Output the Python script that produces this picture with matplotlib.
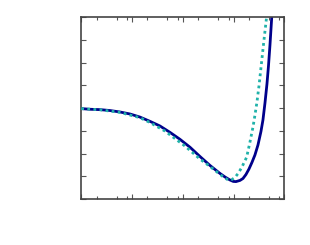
import matplotlib
matplotlib.use("Agg")
import matplotlib.pyplot as plt
from matplotlib.ticker import LogLocator, NullFormatter, FixedLocator

# Solid series
solid_x = [1.0, 1.48, 2.34, 3.68, 5.79, 9.11, 14.35, 22.6, 35.5, 55.9, 88.1, 138.7, 218, 344, 541,
           679, 851, 988, 1117, 1340, 1535, 1758, 2014, 2307, 2643, 3032, 3473, 3802, 4168, 4560,
           4884, 5227, 5649, 5990]
solid_y = [-0.005, -0.012, -0.016, -0.026, -0.042, -0.064, -0.098, -0.145, -0.196, -0.266, -0.343,
           -0.430, -0.532, -0.631, -0.719, -0.758, -0.791, -0.807, -0.809, -0.796, -0.775, -0.731,
           -0.671, -0.598, -0.516, -0.406, -0.257, -0.130, 0.057, 0.266, 0.464, 0.695, 0.992, 1.3]

# Dotted series
dot_x = [1.0, 2.34, 5.79, 14.35, 22.6, 44.6, 110.5, 218, 344, 500.6, 648, 788, 932, 1068, 1241,
         1467, 1816, 2110, 2418, 2648, 2898, 3174, 3556, 3982, 4460, 4775]
dot_y = [-0.005, -0.018, -0.046, -0.105, -0.158, -0.252, -0.417, -0.560, -0.642, -0.714, -0.763,
         -0.791, -0.786, -0.763, -0.717, -0.648, -0.540, -0.373, -0.208, -0.075, 0.068, 0.244,
         0.497, 0.750, 0.992, 1.3]

fig = plt.figure(figsize=(3.1, 2.45), dpi=100)
ax = fig.add_axes([0.262, 0.188, 0.655, 0.741])

ax.plot(solid_x, solid_y, color="#00008B", lw=2.0, solid_joinstyle="round", zorder=2)
ax.plot(dot_x, dot_y, color="#20B2AA", lw=2.0, linestyle=(0, (1, 1.2)), zorder=3)

ax.set_xscale("log")
ax.set_xlim(1, 1e4)
ax.set_ylim(-1, 1)

ax.xaxis.set_major_locator(FixedLocator([1, 10, 100, 1000, 10000]))
ax.xaxis.set_minor_locator(LogLocator(base=10, subs=[2, 5, 8], numticks=20))
ax.xaxis.set_major_formatter(NullFormatter())
ax.xaxis.set_minor_formatter(NullFormatter())
ax.yaxis.set_major_locator(FixedLocator([-1 + 0.25 * i for i in range(9)]))
ax.yaxis.set_major_formatter(NullFormatter())

ax.tick_params(which="both", direction="in", top=True, right=True, color="#555555",
               labelbottom=False, labelleft=False)
ax.tick_params(which="major", length=3.5, width=0.8)
ax.tick_params(which="minor", length=2.0, width=0.8)
for s in ax.spines.values():
    s.set_color("#444444")
    s.set_linewidth(1.2)

fig.savefig("out.png", dpi=100)
